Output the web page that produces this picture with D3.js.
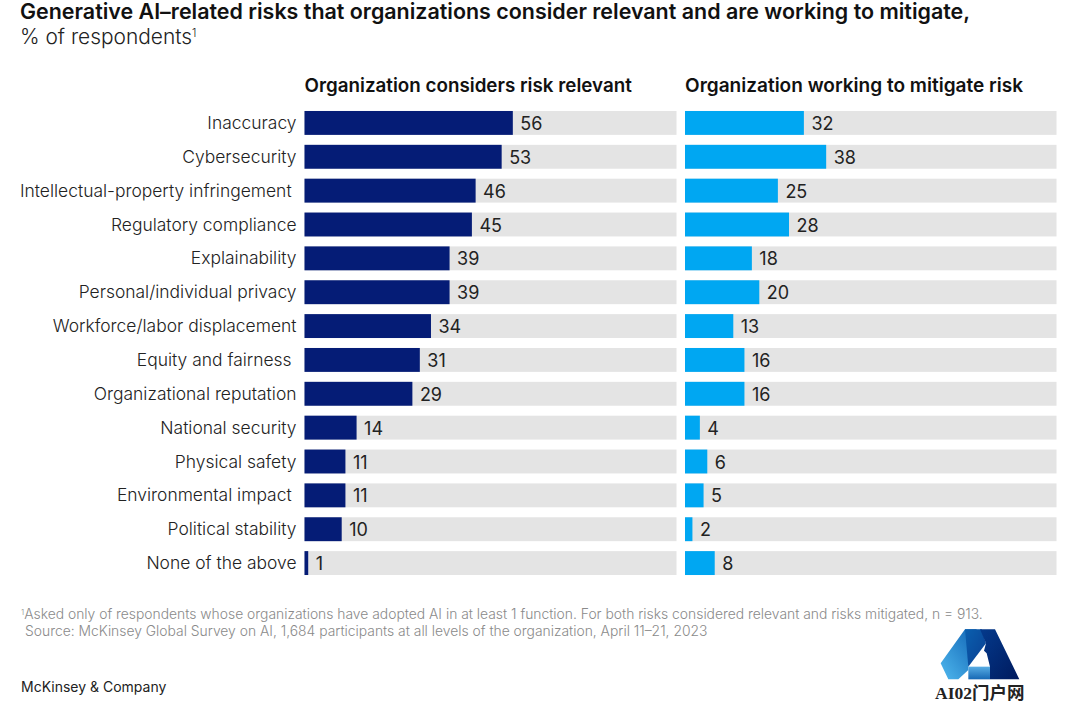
<!DOCTYPE html>
<html><head>
<meta charset="utf-8">
<title>Generative AI risks</title>
<script src="https://d3js.org/d3.v7.min.js"></script>
<style>
  body { margin: 0; background: #fff; }
  svg { display: block; }
  text { font-family: Inter, "Noto Sans", sans-serif; white-space: pre; }
</style>
</head>
<body>
<svg id="chart" width="1080" height="702"></svg>

<script>
// Trailing spaces are in the original labels, they push the text left a bit
let risks = ["Inaccuracy", "Cybersecurity", "Intellectual-property infringement ", "Regulatory compliance",
  "Explainability", "Personal/individual privacy", "Workforce/labor displacement", "Equity and fairness ",
  "Organizational reputation", "National security", "Physical safety", "Environmental impact ",
  "Political stability", "None of the above"];
let relevant = [56, 53, 46, 45, 39, 39, 34, 31, 29, 14, 11, 11, 10, 1];
let mitigating = [32, 38, 25, 28, 18, 20, 13, 16, 16, 4, 6, 5, 2, 8];

let svg = d3.select("#chart");

// 1. Scales
let yScale = d3.scaleBand().domain(risks).range([106, 580]).paddingInner(10 / 34).paddingOuter(5 / 34);
let xLeft = d3.scaleLinear().domain([0, 100]).range([304.5, 676.5]);
let xRight = d3.scaleLinear().domain([0, 100]).range([685, 1056.5]);

// 2. Title block
svg.append("text").attr("x", 20).attr("y", 19).text("Generative AI–related risks that organizations consider relevant and are working to mitigate,")
  .style("font-size", "21.45px").style("font-weight", 600).style("fill", "#111");
let sub = svg.append("text").attr("x", 20).attr("y", 44).style("font-size", "20.9px").style("font-weight", 300).style("fill", "#222");
sub.append("tspan").text("% of respondents");
sub.append("tspan").text("1").attr("dy", -7).style("font-size", "11px");

// 3. One panel of bars
function drawPanel(values, xScale, color, heading, headingSize) {
  svg.append("text").attr("x", xScale(0)).attr("y", 92).text(heading)
    .style("font-size", headingSize).style("font-weight", 600).style("fill", "#111");

  risks.forEach(function(d, i) {
    let y = yScale(d);
    let h = yScale.bandwidth();
    svg.append("rect").attr("x", xScale(0)).attr("y", y)
      .attr("width", xScale(100) - xScale(0)).attr("height", h).style("fill", "#e4e4e4");
    svg.append("rect").attr("x", xScale(0)).attr("y", y)
      .attr("width", xScale(values[i]) - xScale(0)).attr("height", h).style("fill", color);
    svg.append("text").attr("x", xScale(values[i]) + 7.5).attr("y", y + h / 2 + 7).text(values[i])
      .style("font-size", "18px").style("fill", "#222");
  });
}
drawPanel(relevant, xLeft, "#051c76", "Organization considers risk relevant", "18.8px");
drawPanel(mitigating, xRight, "#00a7f2", "Organization working to mitigate risk", "19.05px");

// 4. Category labels
risks.forEach(function(d) {
  svg.append("text").attr("x", 296.5).attr("y", yScale(d) + yScale.bandwidth() / 2 + 6)
    .attr("text-anchor", "end").text(d)
    .style("font-size", "17.45px").style("font-weight", 300).style("fill", "#222");
});

// 5. Footnotes
let note = svg.append("text").attr("x", 21).attr("y", 619).style("font-size", "13.87px").style("font-weight", 300).style("fill", "#8a8a8a");
note.append("tspan").text("1").attr("dy", -4).style("font-size", "8px");
note.append("tspan").text("Asked only of respondents whose organizations have adopted AI in at least 1 function. For both risks considered relevant and risks mitigated, n = 913.").attr("dy", 4);
svg.append("text").attr("x", 25).attr("y", 636).text("Source: McKinsey Global Survey on AI, 1,684 participants at all levels of the organization, April 11–21, 2023")
  .style("font-size", "13.87px").style("font-weight", 300).style("fill", "#8a8a8a");
svg.append("text").attr("x", 21).attr("y", 692).text("McKinsey & Company")
  .style("font-size", "14px").style("fill", "#222");

// 6. Watermark logo, bottom right
let defs = svg.append("defs");
function addGradient(id, c1, c2, x1, x2) {
  let g = defs.append("linearGradient").attr("id", id).attr("x1", x1).attr("x2", x2).attr("y1", 0).attr("y2", 1);
  g.append("stop").attr("offset", "0%").attr("stop-color", c1);
  g.append("stop").attr("offset", "100%").attr("stop-color", c2);
}
addGradient("logoLeft", "#0f63b4", "#4fb8ee", 1, 0);
addGradient("logoMid", "#0a5fae", "#0a3f92", 0, 1);
addGradient("logoRight", "#043a8c", "#001a5e", 0, 1);
addGradient("logoBase", "#58ade4", "#1668b4", 0, 0);
let logo = svg.append("g").attr("transform", "translate(930,620) scale(0.3333)");
logo.append("path").attr("d", "M105,28 L140,28 L115,140 L115,150 L85,178 L55,178 L32,130 Z").style("fill", "url(#logoLeft)");
logo.append("path").attr("d", "M105,28 L155,28 L168,70 L115,140 Z").style("fill", "url(#logoMid)");
logo.append("path").attr("d", "M150,28 L195,28 L268,178 L180,178 L180,140 L170,100 L162,92 L168,70 Z").style("fill", "url(#logoRight)");
logo.append("rect").attr("x", 115).attr("y", 140).attr("width", 65).attr("height", 38).style("fill", "url(#logoBase)");
svg.append("text").attr("x", 935).attr("y", 698.5).text("AI02门户网")
  .style("font-family", "'Liberation Serif', 'Noto Sans CJK SC', serif").style("font-size", "17.5px").style("font-weight", 700).style("fill", "#222");
</script>
</body>
</html>
